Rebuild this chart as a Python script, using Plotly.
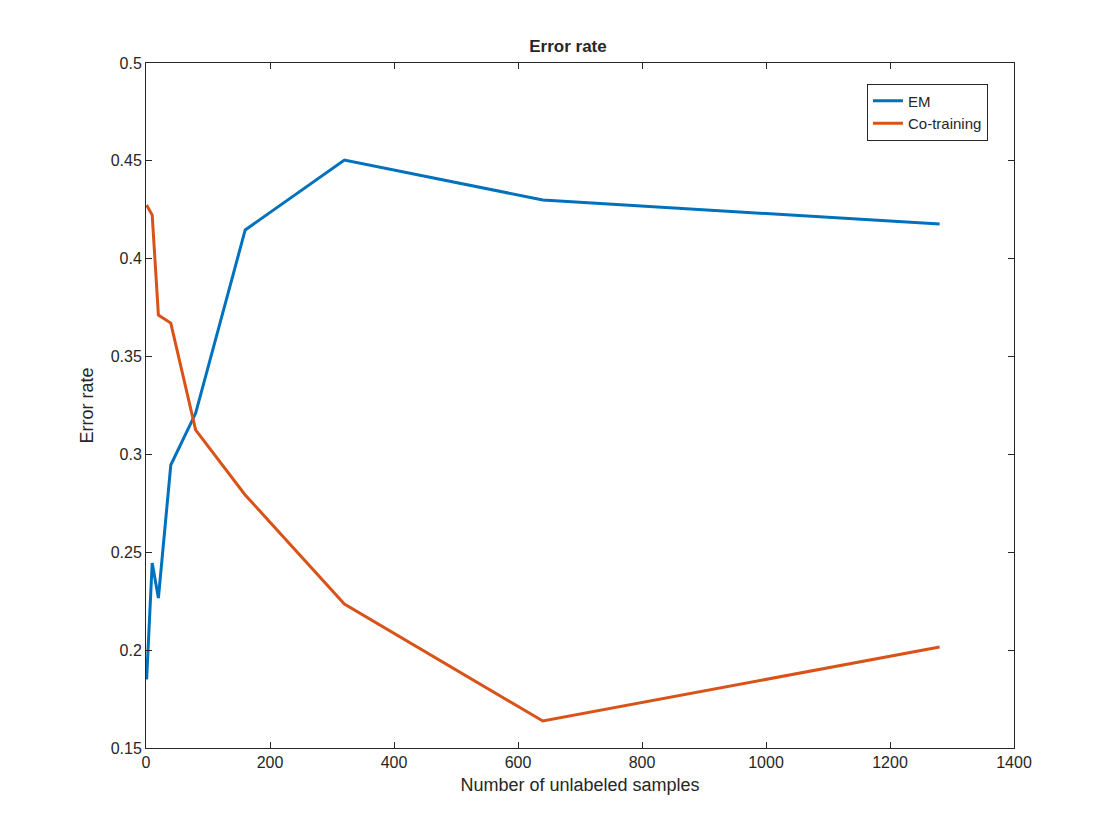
import plotly.graph_objects as go

samples = [1, 10, 20, 40, 80, 160, 320, 640, 1280]
em_err = [0.185, 0.2445, 0.2266, 0.2946, 0.321, 0.4147, 0.4504, 0.430, 0.4177]
co_err = [0.4274, 0.4223, 0.3712, 0.3671, 0.3125, 0.2793, 0.2236, 0.1638, 0.2016]

fig = go.Figure()
fig.add_trace(go.Scatter(x=samples, y=em_err, mode="lines", name="EM",
                         line=dict(color="#0072BD", width=3)))
fig.add_trace(go.Scatter(x=samples, y=co_err, mode="lines", name="Co-training",
                         line=dict(color="#D95319", width=3)))

ax = dict(showline=True, mirror="allticks", linecolor="#262626", linewidth=1,
          ticks="inside", ticklen=6, tickcolor="#262626", showgrid=False,
          zeroline=False, tickfont=dict(size=16, color="#262626"))
fig.update_layout(
    width=1120, height=840, plot_bgcolor="white", paper_bgcolor="white",
    margin=dict(l=138, r=114, t=55, b=100),
    font=dict(family="Liberation Sans, Arial", color="#262626"),
    title=dict(text="<b>Error rate</b>", x=0.5, xanchor="center",
               yref="container", y=0.955, yanchor="middle",
               font=dict(size=17)),
    xaxis=dict(ax, range=[0, 1400], dtick=200,
               title=dict(text="Number of unlabeled samples", font=dict(size=18), standoff=8)),
    yaxis=dict(ax, range=[0.15, 0.5], dtick=0.05, tickformat="~g",
               title=dict(text="Error rate", font=dict(size=18), standoff=12)),
    legend=dict(x=0.97, y=0.97, xanchor="right", yanchor="top",
                bordercolor="#262626", borderwidth=1, bgcolor="white",
                font=dict(size=15)),
)
fig.write_html("out.html")
